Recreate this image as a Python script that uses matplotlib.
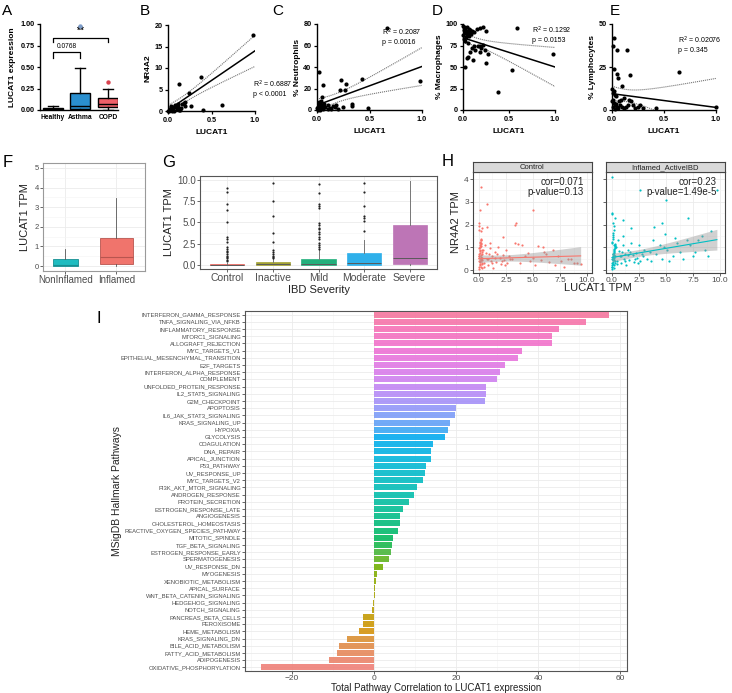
import numpy as np
import matplotlib
matplotlib.use('Agg')
import matplotlib.pyplot as plt

plt.rcParams['font.family'] = ['Liberation Sans', 'DejaVu Sans']

W, H = 732, 693

# ---------------- data ----------------
# A: LUCAT1 expression box plots
a_groups = ['Healthy', 'Asthma', 'COPD']
a_q1 = [0.0, 0.01, 0.04]
a_med = [0.01, 0.05, 0.07]
a_q3 = [0.02, 0.20, 0.135]
a_lo = [0.0, 0.0, 0.005]
a_hi = [0.05, 0.49, 0.25]
a_fliers = [[], [0.98], [0.32]]

# B-E: LUCAT1 vs cell readouts
b_x = [0.98, 0.38, 0.13, 0.24, 0.62, 0.40, 0.27, 0.19, 0.01, 0.02, 0.03, 0.04, 0.05,
       0.06, 0.08, 0.10, 0.12, 0.14, 0.16, 0.18, 0.20, 0.15, 0.07, 0.09, 0.11, 0.13,
       0.03, 0.0, 0.05, 0.02]
b_y = [17.7, 8.0, 6.2, 4.3, 1.4, 0.2, 1.2, 2.0, 0.1, 0.5, 0.2, 0.9, 0.3,
       0.6, 1.5, 0.4, 1.0, 0.3, 1.6, 1.8, 1.2, 0.8, 0.1, 0.9, 1.7, 0.2,
       1.2, 0.0, 0.1, 0.3]
b_fit = (0.2, 13.8)

c_x = [0.02, 0.06, 0.05, 0.23, 0.22, 0.27, 0.28, 0.33, 0.33, 0.49, 0.43, 0.67, 0.98,
       0.01, 0.02, 0.03, 0.01, 0.04, 0.02, 0.05, 0.03, 0.06, 0.08, 0.10, 0.12, 0.15,
       0.17, 0.20, 0.18, 0.25, 0.04, 0.07, 0.10, 0.13, 0.0, 0.02]
c_y = [35, 23, 12, 28, 19, 19, 24, 6, 4, 2, 29, 76, 27,
       0, 1, 2, 3, 5, 7, 4, 0, 1, 3, 5, 2, 4,
       3, 1, 5, 3, 8, 6, 1, 0.5, 2, 4]
c_fit = (4.5, 36.0)

d_x = [0.00, 0.01, 0.02, 0.01, 0.03, 0.02, 0.04, 0.00, 0.05, 0.06, 0.03, 0.01, 0.04,
       0.07, 0.08, 0.02, 0.05, 0.10, 0.12, 0.06, 0.09, 0.18, 0.22, 0.25, 0.15, 0.20,
       0.22, 0.24, 0.27, 0.25, 0.18, 0.11, 0.13, 0.10, 0.04, 0.02, 0.05, 0.16, 0.19,
       0.08, 0.12, 0.59, 0.53, 0.38, 0.98]
d_y = [98, 96, 95, 93, 92, 90, 88, 87, 91, 94, 85, 83, 97,
       90, 93, 80, 78, 92, 91, 86, 88, 95, 96, 92, 94, 72,
       76, 70, 65, 55, 67, 58, 70, 72, 60, 50, 62, 75, 75,
       68, 75, 95, 47, 21, 65]
d_fit = (84.0, -34.0)

e_x = [0.02, 0.01, 0.05, 0.14, 0.64, 0.17, 0.02, 0.05, 0.06, 0.10, 1.00, 0.42, 0.00,
       0.01, 0.03, 0.02, 0.04, 0.01, 0.00, 0.02, 0.03, 0.05, 0.06, 0.08, 0.07, 0.10,
       0.12, 0.15, 0.18, 0.20, 0.22, 0.25, 0.30, 0.16, 0.12, 0.09, 0.03, 0.01, 0.04,
       0.13, 0.27]
e_y = [42, 37, 35, 35, 22, 20.5, 24, 21, 18.5, 14, 1.5, 1, 12,
       10, 9, 11, 8, 6, 5, 4, 3, 2, 1, 3, 5, 2,
       1, 3, 5, 3, 1, 2, 1, 6, 7, 6, 0.5, 1.5, 3.5,
       2, 3]
e_fit = (9.5, -8.0)

# F: LUCAT1 TPM by inflammation
f_groups = ['NonInflamed', 'Inflamed']
f_q1 = [0.02, 0.08]
f_med = [0.03, 0.44]
f_q3 = [0.34, 1.42]
f_lo = [0.0, 0.0]
f_hi = [0.85, 3.46]

# G: LUCAT1 TPM by IBD severity
g_groups = ['Control', 'Inactive', 'Mild', 'Moderate', 'Severe']
g_q1 = [0.0, 0.0, 0.0, 0.02, 0.1]
g_med = [0.02, 0.05, 0.08, 0.2, 0.8]
g_q3 = [0.1, 0.3, 0.7, 1.4, 4.7]
g_lo = [0.0, 0.0, 0.0, 0.0, 0.0]
g_hi = [0.25, 0.7, 1.7, 2.9, 9.9]
g_fliers = [
    [9.1, 8.55, 7.2, 6.5, 5.0, 3.3, 3.0, 2.7, 2.1, 1.9, 1.65, 1.5, 1.3, 1.05, 0.9, 0.75, 0.6, 0.45],
    [9.7, 7.5, 5.8, 3.7, 2.7, 1.75, 1.55, 1.3, 1.05, 0.9, 0.8],
    [9.6, 8.5, 7.15, 6.95, 6.75, 4.9, 4.7, 4.4, 4.2, 3.9, 3.6, 3.3, 3.0, 2.6, 2.35, 2.1, 1.85],
    [9.7, 8.6, 6.9, 5.8, 5.5, 5.2, 4.0],
    [],
]

# H: NR4A2 vs LUCAT1 TPM
h_panels = ['Control', 'Inflamed_ActiveIBD']
ctrl_x = [0.02, 0.05, 0.08, 0.10, 0.12, 0.15, 0.18, 0.20, 0.22, 0.25, 0.28, 0.30, 0.03, 0.06,
          0.09, 0.11, 0.14, 0.17, 0.19, 0.21, 0.24, 0.27, 0.04, 0.07, 0.13, 0.16, 0.23, 0.26,
          0.29, 0.01, 0.02, 0.05, 0.08, 0.12, 0.15, 0.19, 0.22, 0.26, 0.03, 0.10,
          0.4, 0.5, 0.6, 0.7, 0.8, 0.9, 1.0, 1.1, 1.2, 1.3, 1.5, 1.6, 1.8, 1.9, 2.0, 2.2,
          2.3, 2.5, 2.6, 2.8, 0.45, 0.65, 0.85, 1.05, 1.25, 1.45, 1.7, 2.1, 2.4, 2.9,
          3.1, 3.3, 3.6, 3.8, 4.0, 4.3, 4.5, 4.7, 5.0, 5.2, 5.5, 5.7, 5.9, 6.2, 6.5, 6.8,
          7.0, 7.3, 7.6, 7.9, 8.2, 8.5, 8.8, 9.1, 9.4, 6.0,
          0.2, 0.7, 0.1, 0.0, 0.05, 0.3, 0.0, 0.15, 0.75, 5.0, 3.4, 3.3, 2.2]
ctrl_y = [0.05, 0.12, 0.20, 0.28, 0.35, 0.42, 0.50, 0.58, 0.65, 0.72, 0.80, 0.88, 0.95, 1.02,
          1.10, 1.18, 1.25, 1.32, 1.38, 0.15, 0.30, 0.45, 0.60, 0.75, 0.90, 1.05, 1.20, 0.10,
          0.25, 0.40, 0.55, 0.70, 0.85, 1.00, 1.15, 1.30, 0.48, 0.52, 0.62, 0.38,
          0.9, 0.3, 1.1, 0.5, 0.2, 0.7, 1.2, 0.4, 0.6, 0.1, 0.8, 0.35, 1.0, 0.55, 0.25, 0.65,
          0.45, 0.9, 0.3, 0.6, 0.15, 0.75, 0.5, 0.95, 0.3, 0.55, 0.7, 0.4, 0.2, 0.5,
          0.5, 1.2, 1.15, 0.3, 1.1, 0.6, 0.75, 0.4, 0.55, 0.2, 1.05, 0.45, 1.0, 0.7, 0.35, 0.9,
          0.22, 0.6, 0.4, 0.15, 0.5, 0.5, 0.3, 0.3, 0.28, 0.8,
          3.65, 2.9, 2.65, 2.05, 1.95, 1.85, 1.75, 1.72, 1.9, 2.65, 2.05, 2.0, 1.45]
infl_x = [0.02, 0.05, 0.08, 0.10, 0.12, 0.15, 0.18, 0.20, 0.22, 0.25, 0.28, 0.30, 0.03, 0.06,
          0.09, 0.11, 0.14, 0.17, 0.19, 0.21, 0.24, 0.27, 0.04, 0.07, 0.13, 0.16, 0.23, 0.26,
          0.29, 0.01, 0.02, 0.05, 0.08, 0.12, 0.15, 0.19, 0.22, 0.26, 0.03, 0.10,
          0.4, 0.5, 0.6, 0.7, 0.8, 0.9, 1.0, 1.1, 1.2, 1.3, 1.5, 1.6, 1.8, 1.9, 2.0, 2.2,
          2.3, 2.5, 2.6, 2.8, 0.45, 0.65, 0.85, 1.05, 1.25, 1.45, 1.7, 2.1, 2.4, 2.9,
          3.0, 3.2, 3.5, 3.8, 4.1, 4.4, 4.6, 4.9, 5.1, 5.3, 5.6, 5.8, 6.0, 6.3, 6.6, 6.9,
          7.2, 7.5, 7.7, 8.0, 8.3, 8.6, 8.9, 9.2, 3.6, 4.8,
          0.0, 2.6, 9.7, 5.0, 0.0, 0.3, 0.1, 1.0, 4.6, 7.0, 3.9, 1.8, 0.05, 0.2]
infl_y = [0.05, 0.15, 0.25, 0.35, 0.45, 0.55, 0.65, 0.75, 0.85, 0.95, 1.05, 1.15, 1.25, 1.35,
          1.45, 1.55, 1.65, 1.75, 0.1, 0.2, 0.3, 0.4, 0.5, 0.6, 0.7, 0.8, 0.9, 1.0,
          1.1, 1.2, 0.12, 0.32, 0.52, 0.72, 0.92, 1.12, 0.42, 0.62, 0.22, 0.48,
          1.0, 0.4, 1.3, 0.6, 0.3, 0.8, 1.5, 0.5, 0.7, 0.2, 0.9, 0.45, 1.2, 0.65, 0.35, 0.75,
          0.55, 1.1, 0.4, 0.7, 0.25, 0.85, 0.6, 1.1, 0.4, 0.65, 0.8, 0.5, 0.3, 0.6,
          0.9, 0.5, 0.8, 1.3, 0.7, 1.1, 0.5, 1.6, 0.9, 0.4, 0.6, 1.4, 1.2, 0.8, 0.5, 1.3,
          1.1, 0.6, 0.8, 1.3, 1.5, 0.9, 0.6, 1.7, 0.4, 1.0,
          4.1, 3.5, 3.5, 3.1, 2.5, 2.3, 2.05, 2.2, 2.05, 2.3, 1.9, 1.85, 2.45, 1.95]
h_fits = [(0.50, 0.013), (0.55, 0.081)]
h_stats = ['cor=0.071\np-value=0.13', 'cor=0.23\np-value=1.49e-5']

# I: hallmark pathway correlations (top to bottom)
pathways = ['INTERFERON_GAMMA_RESPONSE', 'TNFA_SIGNALING_VIA_NFKB', 'INFLAMMATORY_RESPONSE',
            'MTORC1_SIGNALING', 'ALLOGRAFT_REJECTION', 'MYC_TARGETS_V1',
            'EPITHELIAL_MESENCHYMAL_TRANSITION', 'E2F_TARGETS', 'INTERFERON_ALPHA_RESPONSE',
            'COMPLEMENT', 'UNFOLDED_PROTEIN_RESPONSE', 'IL2_STAT5_SIGNALING', 'G2M_CHECKPOINT',
            'APOPTOSIS', 'IL6_JAK_STAT3_SIGNALING', 'KRAS_SIGNALING_UP', 'HYPOXIA', 'GLYCOLYSIS',
            'COAGULATION', 'DNA_REPAIR', 'APICAL_JUNCTION', 'P53_PATHWAY', 'UV_RESPONSE_UP',
            'MYC_TARGETS_V2', 'PI3K_AKT_MTOR_SIGNALING', 'ANDROGEN_RESPONSE', 'PROTEIN_SECRETION',
            'ESTROGEN_RESPONSE_LATE', 'ANGIOGENESIS', 'CHOLESTEROL_HOMEOSTASIS',
            'REACTIVE_OXYGEN_SPECIES_PATHWAY', 'MITOTIC_SPINDLE', 'TGF_BETA_SIGNALING',
            'ESTROGEN_RESPONSE_EARLY', 'SPERMATOGENESIS', 'UV_RESPONSE_DN', 'MYOGENESIS',
            'XENOBIOTIC_METABOLISM', 'APICAL_SURFACE', 'WNT_BETA_CATENIN_SIGNALING',
            'HEDGEHOG_SIGNALING', 'NOTCH_SIGNALING', 'PANCREAS_BETA_CELLS', 'PEROXISOME',
            'HEME_METABOLISM', 'KRAS_SIGNALING_DN', 'BILE_ACID_METABOLISM',
            'FATTY_ACID_METABOLISM', 'ADIPOGENESIS', 'OXIDATIVE_PHOSPHORYLATION']
path_corr = [57.4, 51.6, 45.1, 43.4, 43.3, 36.1, 35.1, 31.9, 30.7, 30.0, 27.3, 27.2, 27.1,
             20.1, 19.7, 18.6, 18.1, 17.3, 14.3, 13.9, 13.8, 12.6, 12.4, 11.9, 10.4, 9.8, 8.6,
             7.0, 6.4, 6.2, 5.9, 4.6, 4.4, 4.2, 3.6, 2.2, 0.8, 0.4, 0.3, 0.2, -0.3, -0.4,
             -2.6, -2.8, -3.7, -6.7, -8.5, -9.1, -10.9, -27.5]


# ---------------- helpers ----------------
def box(l, t, r, b):
    return [l / W, 1 - b / H, (r - l) / W, (b - t) / H]


def hcl(h, c=100, l=65):
    # polar Luv -> sRGB, same as R's hcl()
    hr = np.deg2rad(h)
    u, v = c * np.cos(hr), c * np.sin(hr)
    xn, yn, zn = 95.047, 100.0, 108.883
    un = 4 * xn / (xn + 15 * yn + 3 * zn)
    vn = 9 * yn / (xn + 15 * yn + 3 * zn)
    Y = yn * ((l + 16) / 116) ** 3
    up, vp = u / (13 * l) + un, v / (13 * l) + vn
    X = Y * 9 * up / (4 * vp)
    Z = Y * (12 - 3 * up - 20 * vp) / (4 * vp)
    X, Y, Z = X / 100, Y / 100, Z / 100
    rgb = [3.2404542 * X - 1.5371385 * Y - 0.4985314 * Z,
           -0.9692660 * X + 1.8760108 * Y + 0.0415560 * Z,
           0.0556434 * X - 0.2040259 * Y + 1.0572252 * Z]
    out = []
    for ch in rgb:
        ch = max(ch, 0)
        ch = 12.92 * ch if ch <= 0.0031308 else 1.055 * ch ** (1 / 2.4) - 0.055
        out.append(min(1, max(0, ch)))
    return tuple(out)


def prism(ax):
    for s in ['top', 'right']:
        ax.spines[s].set_visible(False)
    for s in ['left', 'bottom']:
        ax.spines[s].set_linewidth(1.0)
    ax.tick_params(direction='out', length=2.5, width=0.9, labelsize=5.2, pad=1.5)
    for t in ax.get_xticklabels() + ax.get_yticklabels():
        t.set_fontweight('bold')


def gg(ax, border='#4d4d4d', size=6.5):
    ax.set_facecolor('white')
    for s in ax.spines.values():
        s.set_color(border)
        s.set_linewidth(0.8)
    ax.grid(True, which='major', color='#ebebeb', lw=0.6, zorder=0)
    ax.grid(True, which='minor', color='#f4f4f4', lw=0.4, zorder=0)
    ax.set_axisbelow(True)
    ax.tick_params(which='major', length=2, width=0.6, color='#4d4d4d',
                   labelsize=size, labelcolor='#4d4d4d', pad=1)
    ax.tick_params(which='minor', length=0)


def fit_band(x, y, fit, xs):
    x = np.asarray(x, float)
    y = np.asarray(y, float)
    b0, b1 = fit
    n = len(x)
    s = np.sqrt(np.sum((y - (b0 + b1 * x)) ** 2) / (n - 2))
    sxx = np.sum((x - x.mean()) ** 2)
    se = s * np.sqrt(1 / n + (xs - x.mean()) ** 2 / sxx)
    return b0 + b1 * xs, 2.0 * se


fig = plt.figure(figsize=(W / 100, H / 100), dpi=100)


def letter(x, y, s, size=11):
    fig.text(x / W, 1 - y / H, s, fontsize=size, va='baseline', ha='left')


# ---------------- A ----------------
ax = fig.add_axes(box(40, 24, 118, 110))
a_colors = ['#222222', '#2a8fcf', '#ef6069']
a_flier_colors = ['#222222', '#7d9cc8', '#d9434f']
stats = [dict(med=m, q1=q1, q3=q3, whislo=lo, whishi=hi, fliers=[])
         for m, q1, q3, lo, hi in zip(a_med, a_q1, a_q3, a_lo, a_hi)]
bp = ax.bxp(stats, positions=range(3), widths=0.72, patch_artist=True, showfliers=False,
            capwidths=0.36,
            medianprops=dict(color='black', lw=1.0),
            whiskerprops=dict(color='black', lw=1.0),
            capprops=dict(color='black', lw=1.0),
            boxprops=dict(edgecolor='black', lw=1.0))
for patch, col in zip(bp['boxes'], a_colors):
    patch.set_facecolor(col)
for i, (fl, col) in enumerate(zip(a_fliers, a_flier_colors)):
    if fl:
        ax.scatter([i] * len(fl), fl, s=10, color=col, zorder=4, clip_on=False, lw=0)
ax.set_xlim(-0.45, 2.35)
ax.set_ylim(0, 1.0)
ax.set_yticks([0, 0.25, 0.5, 0.75, 1.0])
ax.set_yticklabels(['0.00', '0.25', '0.50', '0.75', '1.00'])
ax.set_xticks(range(3))
ax.set_xticklabels(a_groups)
ax.set_ylabel('LUCAT1 expression', fontsize=6, fontweight='bold', labelpad=3)
prism(ax)
ax.tick_params(axis='x', length=0, labelsize=4.8, pad=3)
for t in ax.get_xticklabels():
    t.set_fontweight('bold')
for (i0, i1, top, leg, txt, tsz) in [(0, 1, 0.675, 0.60, '0.0768', 4.8), (0, 2, 0.84, 0.79, '**', 7)]:
    ax.plot([i0, i0, i1, i1], [leg, top, top, leg], color='black', lw=0.9, clip_on=False)
    ax.text((i0 + i1) / 2, top + 0.02, txt, ha='center', va='bottom', fontsize=tsz,
            fontweight='bold' if txt == '**' else 'normal')
letter(2, 15, 'A')

# ---------------- B-E ----------------
prism_specs = [
    ('B', 140, box(168, 25, 255, 111), b_x, b_y, b_fit, 20, [0, 5, 10, 15, 20], 'NR4A2',
     'R$^2$ = 0.6887\np < 0.0001', (0.98, 0.37)),
    ('C', 272, box(317, 24, 422, 110), c_x, c_y, c_fit, 80, [0, 20, 40, 60, 80], '% Neutrophils',
     'R$^2$ = 0.2087\np = 0.0016', (0.62, 0.97)),
    ('D', 432, box(463, 24, 555, 110), d_x, d_y, d_fit, 100, [0, 25, 50, 75, 100], '% Macrophages',
     'R$^2$ = 0.1292\np = 0.0153', (0.75, 0.99)),
    ('E', 610, box(612, 24, 716, 110), e_x, e_y, e_fit, 50, [0, 25, 50], '% Lymphocytes',
     'R$^2$ = 0.02076\np = 0.345', (0.63, 0.88)),
]
for lab, lx, pos, xs_, ys_, fit, ymax, yt, ylab, txt, tpos in prism_specs:
    ax = fig.add_axes(pos)
    xs = np.linspace(0, 1, 200)
    line, hw = fit_band(xs_, ys_, fit, xs)
    ax.plot(xs, line, color='black', lw=1.1, zorder=3)
    ax.plot(xs, line + hw, color='#777777', lw=0.8, ls=(0, (1, 0.8)), zorder=2)
    ax.plot(xs, line - hw, color='#777777', lw=0.8, ls=(0, (1, 0.8)), zorder=2)
    ax.scatter(xs_, ys_, s=9, color='black', lw=0, zorder=4, clip_on=False)
    ax.set_xlim(0, 1.0)
    ax.set_ylim(0, ymax)
    ax.set_xticks([0, 0.5, 1.0])
    ax.set_xticklabels(['0.0', '0.5', '1.0'])
    ax.set_yticks(yt)
    ax.set_ylabel(ylab, fontsize=6, fontweight='bold', labelpad=2)
    ax.set_xlabel('LUCAT1', fontsize=6, fontweight='bold', labelpad=4)
    prism(ax)
    ax.text(tpos[0], tpos[1], txt, transform=ax.transAxes, fontsize=5, va='top', ha='left',
            linespacing=1.2)
    letter(lx, 15, lab)

# ---------------- F ----------------
ax = fig.add_axes(box(43, 163, 145, 271))
f_colors = ['#1fbcc0', '#f0746c']
f_edges = ['#178f92', '#b8554f']
for i in range(2):
    st = [dict(med=f_med[i], q1=f_q1[i], q3=f_q3[i], whislo=f_lo[i], whishi=f_hi[i], fliers=[])]
    ax.bxp(st, positions=[i + 1], widths=[0.5, 0.65][i], patch_artist=True,
           showfliers=False, showcaps=False,
           medianprops=dict(color=f_edges[i], lw=0.8),
           whiskerprops=dict(color='#555555', lw=0.6),
           boxprops=dict(facecolor=f_colors[i], edgecolor=f_edges[i], lw=0.6))
ax.set_xlim(0.56, 2.56)
ax.set_ylim(-0.255, 5.255)
ax.set_yticks(range(6))
ax.set_yticks(np.arange(0.5, 5, 1), minor=True)
ax.set_xticks([1, 2])
ax.set_xticklabels(f_groups)
gg(ax, border='#9a9a9a', size=5.5)
ax.tick_params(axis='x', labelsize=7)
ax.set_ylabel('LUCAT1 TPM', fontsize=8, color='#222222', labelpad=3)
letter(3, 167, 'F', 12)

# ---------------- G ----------------
ax = fig.add_axes(box(200, 176, 437, 269))
g_colors = ['#e8645c', '#a3a233', '#22b07c', '#2fb0ea', '#bd75b6']
stats = [dict(med=m, q1=q1, q3=q3, whislo=lo, whishi=hi, fliers=[])
         for m, q1, q3, lo, hi in zip(g_med, g_q1, g_q3, g_lo, g_hi)]
bp = ax.bxp(stats, positions=range(1, 6), widths=0.75, patch_artist=True, showfliers=False,
            showcaps=False,
            medianprops=dict(color='#5a5a5a', lw=0.7),
            whiskerprops=dict(color='#777777', lw=0.7),
            boxprops=dict(edgecolor='#666666', lw=0.5))
for patch, col in zip(bp['boxes'], g_colors):
    patch.set_facecolor(col)
    patch.set_edgecolor(col)
for i, fl in enumerate(g_fliers):
    if fl:
        ax.scatter([i + 1] * len(fl), fl, s=2.5, color='#222222', lw=0, zorder=4)
ax.set_xlim(0.4, 5.6)
ax.set_ylim(-0.5, 10.5)
ax.set_yticks([0, 2.5, 5, 7.5, 10])
ax.set_yticklabels(['0.0', '2.5', '5.0', '7.5', '10.0'])
ax.set_yticks([1.25, 3.75, 6.25, 8.75], minor=True)
ax.set_xticks(range(1, 6))
ax.set_xticklabels(g_groups)
gg(ax, border='#555555', size=7)
ax.tick_params(axis='x', labelsize=7.5)
ax.set_ylabel('LUCAT1 TPM', fontsize=8, color='#222222', labelpad=2)
ax.set_xlabel('IBD Severity', fontsize=8, color='#222222', labelpad=1)
letter(162, 167, 'G', 12)

# ---------------- H ----------------
h_colors = ['#f8766d', '#00bfc4']
h_data = [(ctrl_x, ctrl_y), (infl_x, infl_y)]
h_lr = [(473, 592), (606, 725)]
for k in range(2):
    l, r = h_lr[k]
    ax = fig.add_axes(box(l, 172, r, 273))
    hx, hy = h_data[k]
    ax.scatter(hx, hy, s=2.5, color=h_colors[k], lw=0, zorder=3)
    xs = np.linspace(0, max(hx), 100)
    line, hw = fit_band(hx, hy, h_fits[k], xs)
    ax.fill_between(xs, line - hw, line + hw, color='#999999', alpha=0.45, lw=0, zorder=4)
    ax.plot(xs, line, color=h_colors[k], lw=0.8, zorder=5)
    ax.set_xlim(-0.55, 10.45)
    ax.set_ylim(-0.13, 4.31)
    ax.set_xticks([0, 2.5, 5, 7.5, 10])
    ax.set_xticklabels(['0.0', '2.5', '5.0', '7.5', '10.0'])
    ax.set_xticks([1.25, 3.75, 6.25, 8.75], minor=True)
    ax.set_yticks(range(5))
    ax.set_yticks(np.arange(0.5, 4.5, 1), minor=True)
    gg(ax, border='#444444', size=6)
    if k == 0:
        ax.set_ylabel('NR4A2 TPM', fontsize=8, color='#222222', labelpad=2)
    else:
        ax.set_yticklabels([])
    ax.text(0.93, 0.95, h_stats[k], transform=ax.transAxes, ha='right', va='top',
            fontsize=7, color='#222222', linespacing=0.95, zorder=6)
    sax = fig.add_axes(box(l, 162, r, 172))
    sax.set_facecolor('#d9d9d9')
    sax.set_xticks([])
    sax.set_yticks([])
    for s in sax.spines.values():
        s.set_color('#444444')
        s.set_linewidth(0.8)
    sax.text(0.5, 0.45, h_panels[k], ha='center', va='center', fontsize=5.5, color='#222222',
             transform=sax.transAxes)
fig.text(598 / W, 1 - 291 / H, 'LUCAT1 TPM', fontsize=8, color='#222222', ha='center',
         va='baseline')
letter(442, 166, 'H', 12)

# ---------------- I ----------------
ax = fig.add_axes(box(245, 311, 627, 671))
n = len(pathways)
ypos = np.arange(n)[::-1]
hues = np.linspace(15, 355, n)
bar_colors = [hcl(h, c=85) for h in hues][::-1]
ax.barh(ypos, path_corr, height=0.86, color=bar_colors, alpha=0.88, zorder=3, lw=0)
ax.set_yticks(ypos)
ax.set_yticklabels(pathways)
ax.set_ylim(-0.5, n - 0.5)
ax.set_xlim(-31.5, 61.7)
ax.set_xticks([-20, 0, 20, 40, 60])
ax.set_xticklabels(['\u221220', '0', '20', '40', '60'])
ax.set_xticks([-30, -10, 10, 30, 50], minor=True)
gg(ax, border='#555555', size=6)
ax.tick_params(axis='y', labelsize=4.2)
ax.set_ylabel('MSigDB Hallmark Pathways', fontsize=7.5, color='#222222')
ax.yaxis.set_label_coords((117 - 245) / (627 - 245) + 0.012, 0.5)
ax.set_xlabel('Total Pathway Correlation to LUCAT1 expression', fontsize=7,
              color='#222222', labelpad=0.5)
letter(96, 323, 'I', 12)

fig.savefig('out.png', dpi=100)
